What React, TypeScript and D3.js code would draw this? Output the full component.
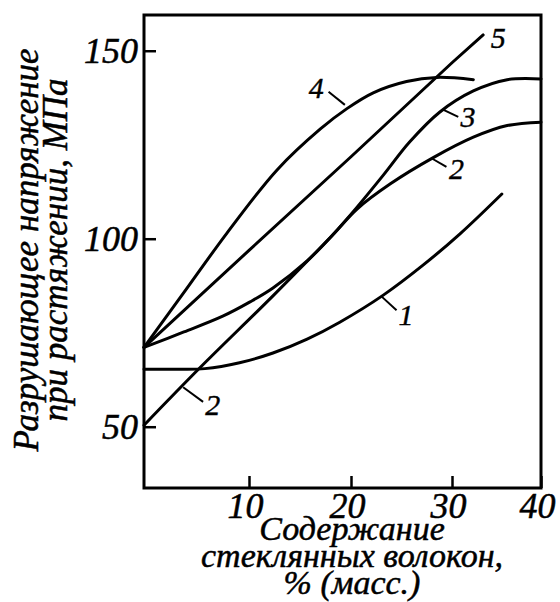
import React, { useEffect, useRef } from "react";
import * as d3 from "d3";

// glass fibre content, % (mass) / tensile strength, MPa
const xTicks = [10, 20, 30, 40];
const yTicks = [50, 100, 150];

const curve1X = [0, 2.95, 5.8, 9.1, 12.35, 15.7, 18.9, 23.2, 27.1, 30.9, 35.6];
const curve1Y = [65.3, 65.3, 65.45, 67.0, 69.6, 73.3, 77.8, 85.0, 92.9, 101.3, 111.9];

const curve2X = [0, 5.3, 12.35, 18.2, 20.6, 23.9, 28.1, 32.4, 36.2, 40];
const curve2Y = [50.4, 65.6, 84.8, 101.0, 107.9, 114.6, 121.5, 127.0, 130.1, 131.0];

const curve3X = [0, 3.8, 7.5, 10.1, 12.35, 15.7, 18.2, 20.6, 23.2, 25.8, 28.8, 32.4, 36.2, 40];
const curve3Y = [71.1, 75.2, 79.4, 83.2, 86.9, 94.1, 101.0, 108.4, 116.9, 125.7, 133.7, 139.3, 142.3, 142.5];

const curve4X = [0, 3.7, 7.9, 12.75, 17.0, 19.6, 22.2, 25.5, 28.5, 32.4];
const curve4Y = [71.1, 85.3, 101.5, 118.3, 129.2, 134.6, 138.8, 141.8, 142.9, 142.3];

const curve5X = [0, 10, 20, 30, 33.5];
const curve5Y = [71.1, 96.9, 121.8, 146.8, 154.2];

// curve labels: text, text position, leader line (x1, y1, x2, y2)
const labelNames = ["4", "5", "3", "2", "1", "2"];
const labelX = [16.6, 35.2, 31.8, 30.5, 25.45, 6.55];
const labelY = [140.1, 153.6, 132.6, 118.8, 79.9, 55.9];
const leaders = [
  [17.8, 139.1, 19.4, 135.6],
  null,
  [29.06, 134.4, 30.7, 132.4],
  [27.97, 121.4, 29.45, 119.1],
  [23.04, 84.6, 24.51, 81.0],
  [3.73, 60.5, 5.63, 56.6],
];

const yTitle = ["Разрушающее напряжение", "при растяжении, МПа"];
const xTitle = ["Содержание", "стеклянных волокон,", "% (масс.)"];

const FONT = "'Liberation Serif', 'Times New Roman', serif";

function zip(xs: number[], ys: number[]): [number, number][] {
  return xs.map((x, i) => [x, ys[i]]);
}

export default function App() {
  const ref = useRef<SVGSVGElement>(null);

  useEffect(() => {
    document.body.style.margin = "0";
    const svg = d3.select(ref.current);
    svg.selectAll("*").remove();

    const width = 560;
    const height = 602;
    const top = 15;
    const bottom = 488;

    // the original drawing's x ticks are not evenly spaced, so map them piecewise
    const x = d3.scaleLinear().domain([0, 10, 20, 30, 40]).range([144, 249, 351, 452, 541]);
    const y = d3.scaleLinear().domain([33.7, 159.5]).range([bottom, top]);

    svg.attr("width", width).attr("height", height);
    svg.append("rect").attr("width", width).attr("height", height).attr("fill", "#fff");

    const xAxis = svg
      .append("g")
      .attr("transform", `translate(0,${bottom})`)
      .call(d3.axisBottom(x).tickValues(xTicks).tickSize(-12).tickPadding(4).tickFormat(d3.format("d")));
    const yAxis = svg
      .append("g")
      .attr("transform", `translate(${x(0)},0)`)
      .call(d3.axisLeft(y).tickValues(yTicks).tickSize(-12).tickPadding(6).tickFormat(d3.format("d")));

    [xAxis, yAxis].forEach((g) => {
      g.select(".domain").remove();
      g.selectAll(".tick line").attr("stroke", "#000").attr("stroke-width", 2.5);
      g.selectAll(".tick text")
        .attr("fill", "#000")
        .attr("stroke", "#000")
        .attr("stroke-width", 0.5)
        .attr("font-family", FONT)
        .attr("font-style", "italic")
        .attr("font-size", 36);
    });
    xAxis.selectAll(".tick text").attr("dx", -4);

    svg
      .append("rect")
      .attr("x", x(0))
      .attr("y", top)
      .attr("width", x(40) - x(0))
      .attr("height", bottom - top)
      .attr("fill", "none")
      .attr("stroke", "#000")
      .attr("stroke-width", 3);

    const smooth = d3
      .line<[number, number]>()
      .x((d) => x(d[0]))
      .y((d) => y(d[1]))
      .curve(d3.curveCatmullRom.alpha(0.5));
    const straight = d3
      .line<[number, number]>()
      .x((d) => x(d[0]))
      .y((d) => y(d[1]));

    const curves = [
      smooth(zip(curve1X, curve1Y)),
      smooth(zip(curve2X, curve2Y)),
      smooth(zip(curve3X, curve3Y)),
      smooth(zip(curve4X, curve4Y)),
      straight(zip(curve5X, curve5Y)),
    ];
    svg
      .selectAll("path.curve")
      .data(curves)
      .enter()
      .append("path")
      .attr("class", "curve")
      .attr("d", (d) => d)
      .attr("fill", "none")
      .attr("stroke", "#000")
      .attr("stroke-width", 3)
      .attr("stroke-linecap", "round");

    leaders.forEach((l) => {
      if (!l) return;
      svg
        .append("line")
        .attr("x1", x(l[0]))
        .attr("y1", y(l[1]))
        .attr("x2", x(l[2]))
        .attr("y2", y(l[3]))
        .attr("stroke", "#000")
        .attr("stroke-width", 2);
    });

    labelNames.forEach((t, i) => {
      svg
        .append("text")
        .attr("x", x(labelX[i]))
        .attr("y", y(labelY[i]))
        .attr("text-anchor", "middle")
        .attr("dominant-baseline", "central")
        .attr("font-family", FONT)
        .attr("font-style", "italic")
        .attr("font-size", 30)
        .attr("stroke", "#000")
        .attr("stroke-width", 0.4)
        .text(t);
    });

    // axis titles
    const yt = svg
      .append("text")
      .attr("transform", "translate(38,250) rotate(-90)")
      .attr("text-anchor", "middle")
      .attr("font-family", FONT)
      .attr("font-style", "italic")
      .attr("font-size", 35)
      .attr("stroke", "#000")
      .attr("stroke-width", 0.5);
    yTitle.forEach((line, i) => {
      yt.append("tspan").attr("x", 0).attr("dy", i === 0 ? 0 : 29).text(line);
    });

    const xt = svg
      .append("text")
      .attr("transform", "translate(352,540)")
      .attr("text-anchor", "middle")
      .attr("font-family", FONT)
      .attr("font-style", "italic")
      .attr("font-size", 34)
      .attr("stroke", "#000")
      .attr("stroke-width", 0.5);
    xTitle.forEach((line, i) => {
      xt.append("tspan").attr("x", 0).attr("dy", i === 0 ? 0 : 27).text(line);
    });
  }, []);

  return <svg ref={ref} style={{ display: "block" }} />;
}
